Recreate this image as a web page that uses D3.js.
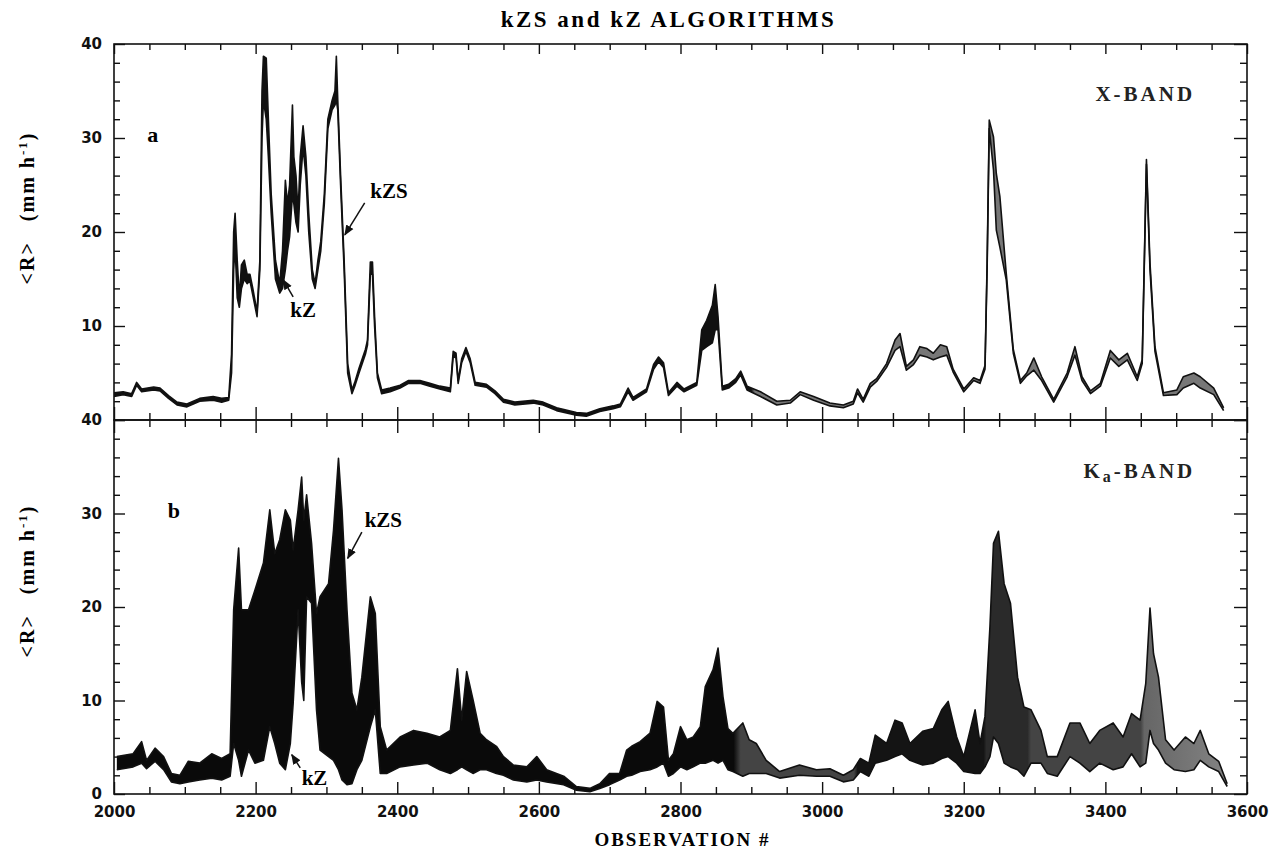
<!DOCTYPE html>
<html>
<head>
<meta charset="utf-8">
<script src="https://cdn.jsdelivr.net/npm/d3@7"></script>
<style>
  html, body { margin: 0; padding: 0; background: #fff; }
  svg { display: block; }
  .serif { font-family: "Liberation Serif", "DejaVu Serif", serif; font-weight: bold; }
  .tick text { font-family: "DejaVu Sans", sans-serif; font-weight: bold; font-size: 15px; fill: #111; }
</style>
</head>
<body>
<div id="chart"></div>
<script>
// panel a : X-band, kZS (upper edge) and kZ (lower edge)
const obsA = [2000,2013,2025,2032,2039,2056,2065,2077,2089,2103,2121,2140,2152,2162,2166,2169,2171,2174,2177,2180,2184,2188,2192,2196,2202,2206,2209,2211,2215,2218,2222,2228,2234,2238,2242,2245,2248,2252,2254,2257,2260,2263,2267,2271,2275,2280,2284,2288,2292,2297,2302,2308,2312,2314,2316,2320,2325,2330,2336,2340,2346,2355,2358,2362,2365,2368,2372,2378,2390,2404,2416,2432,2446,2460,2475,2479,2483,2486,2491,2497,2503,2510,2526,2538,2550,2566,2592,2606,2625,2653,2667,2686,2705,2715,2726,2733,2752,2762,2769,2776,2783,2795,2805,2823,2830,2837,2845,2849,2853,2859,2868,2878,2885,2894,2913,2936,2955,2969,2988,3011,3030,3044,3050,3058,3068,3077,3091,3103,3110,3119,3129,3138,3148,3157,3167,3176,3185,3200,3214,3223,3230,3233,3236,3242,3246,3251,3260,3270,3280,3289,3299,3310,3327,3346,3357,3367,3379,3393,3407,3419,3431,3445,3452,3458,3463,3470,3482,3501,3510,3525,3534,3553,3567];
const kzsA = [2.9,3.0,2.8,4.0,3.3,3.5,3.4,2.6,1.9,1.7,2.3,2.5,2.3,2.4,7.0,20.0,22.0,17.0,13.0,16.5,17.0,15.5,15.5,14.0,11.5,17.0,35.0,38.7,38.5,32.0,24.0,17.0,14.5,18.0,25.5,23.0,25.0,33.5,28.0,26.0,22.0,28.0,31.3,28.0,22.0,16.0,14.5,17.0,19.0,24.0,32.0,34.0,35.0,38.7,34.0,26.0,17.0,6.0,3.2,4.0,5.5,7.5,8.5,16.8,16.8,11.0,5.0,3.2,3.4,3.7,4.2,4.2,3.9,3.6,3.4,7.3,7.1,4.2,6.5,7.7,6.5,4.0,3.8,3.1,2.2,1.9,2.1,1.9,1.3,0.8,0.7,1.2,1.5,1.7,3.4,2.4,3.3,5.9,6.7,6.1,2.9,4.0,3.3,4.0,9.6,10.6,12.2,14.4,11.0,3.6,3.8,4.4,5.2,3.6,3.0,2.0,2.1,3.0,2.5,1.8,1.6,2.0,3.3,2.2,3.9,4.4,6.0,8.5,9.2,5.7,6.4,7.8,7.6,7.1,8.0,7.8,5.4,3.3,4.5,4.2,5.8,16.7,31.9,30.1,26.2,23.8,15.6,7.5,4.2,5.0,6.6,4.6,2.2,5.0,7.8,4.6,3.1,3.9,7.4,6.4,7.1,4.6,6.4,27.7,16.7,7.8,2.9,3.2,4.6,5.0,4.6,3.4,1.3];
const kzA = [2.5,2.7,2.5,3.7,3.0,3.2,3.1,2.3,1.6,1.4,2.0,2.1,1.9,2.1,5.0,16.0,18.5,13.0,12.0,14.0,15.0,14.5,14.8,13.3,11.0,16.0,30.0,34.0,32.0,28.0,22.0,15.0,13.5,14.0,16.0,18.0,19.5,24.0,23.0,21.0,20.0,25.0,29.0,26.0,20.0,15.0,14.0,16.0,18.0,23.0,31.0,33.0,33.5,34.0,33.0,25.0,16.0,5.0,2.8,3.6,5.0,7.0,8.0,15.5,15.5,10.0,4.5,2.8,3.0,3.4,3.9,3.9,3.6,3.3,3.0,6.8,6.6,3.9,6.1,7.3,6.1,3.7,3.5,2.8,1.9,1.6,1.8,1.6,1.0,0.5,0.4,0.9,1.2,1.4,3.0,2.1,3.0,5.4,6.2,5.6,2.6,3.6,3.0,3.7,7.4,7.8,8.2,9.6,9.6,3.2,3.4,4.0,4.8,3.2,2.5,1.6,1.8,2.7,2.1,1.5,1.3,1.7,2.9,1.9,3.5,4.1,5.6,7.4,7.8,5.3,5.9,6.9,6.7,6.4,6.7,6.9,5.1,3.0,4.2,3.9,5.4,16.0,31.0,26.6,20.2,18.4,14.9,7.1,3.9,4.7,5.3,4.2,1.9,4.6,6.9,4.2,2.8,3.6,6.6,5.7,6.4,4.2,6.0,27.2,16.0,7.3,2.6,2.7,3.4,3.9,3.4,2.7,1.0];

// panel b : Ka-band
const obsB = [2004,2027,2039,2046,2058,2070,2081,2093,2105,2121,2138,2152,2164,2169,2176,2180,2190,2199,2211,2220,2227,2234,2242,2249,2253,2260,2265,2268,2272,2279,2286,2291,2303,2310,2317,2322,2329,2336,2343,2350,2362,2369,2376,2385,2404,2423,2442,2460,2475,2485,2491,2498,2507,2517,2526,2540,2550,2564,2583,2597,2611,2635,2653,2672,2686,2700,2714,2724,2731,2743,2757,2767,2776,2783,2790,2800,2809,2818,2828,2835,2846,2853,2860,2867,2874,2888,2897,2907,2921,2940,2968,2992,3011,3030,3044,3054,3066,3075,3091,3103,3113,3124,3142,3157,3169,3178,3190,3200,3216,3223,3230,3237,3242,3249,3257,3266,3276,3285,3295,3309,3318,3332,3350,3364,3378,3392,3411,3425,3437,3449,3457,3463,3468,3475,3485,3497,3513,3525,3534,3546,3560,3572];
const kzsB = [4.0,4.3,5.6,3.6,4.9,4.0,2.2,2.0,3.5,3.3,4.3,3.8,4.3,19.7,26.3,19.7,19.7,21.8,24.7,30.4,25.7,27.2,30.4,29.3,26.1,30.4,33.9,29.3,32.0,26.8,19.3,21.1,22.5,28.2,35.9,30.4,19.7,10.8,9.0,12.5,21.1,19.3,7.2,4.7,6.1,6.8,6.5,6.1,6.8,13.4,7.9,13.1,10.1,6.5,5.8,5.1,4.0,3.1,2.9,4.0,2.6,1.9,0.8,0.6,1.1,2.2,2.2,4.7,5.1,5.6,6.5,9.9,9.3,3.6,4.3,7.2,5.8,6.1,7.2,11.5,13.3,15.6,10.4,7.0,6.5,7.6,5.8,5.4,3.6,2.4,3.1,2.6,2.7,2.0,2.6,3.8,3.3,6.3,5.4,7.9,7.6,5.4,6.7,7.0,9.0,9.9,6.1,4.0,9.0,5.4,8.3,17.9,26.8,28.1,22.5,20.4,12.5,9.3,9.0,6.8,4.0,4.0,7.6,7.6,5.4,6.8,7.6,6.1,8.6,7.9,11.8,19.9,15.0,12.5,5.8,4.7,6.1,5.4,6.8,4.3,3.5,1.1];
const kzB = [2.6,2.9,3.3,2.7,3.5,2.6,1.3,1.1,1.3,1.5,1.7,1.5,1.9,5.4,3.6,1.9,4.7,3.3,3.6,7.2,5.4,3.3,2.6,5.4,9.7,19.7,12.0,10.0,21.1,20.4,9.0,4.7,4.0,3.6,2.6,1.5,1.0,1.1,2.6,3.6,7.2,9.0,2.2,2.2,2.9,3.1,3.3,2.6,2.2,2.6,2.9,2.6,2.2,2.6,2.6,2.2,2.0,1.5,1.3,1.5,1.3,1.0,0.4,0.25,0.6,1.0,1.5,1.9,2.0,2.4,2.6,2.9,3.3,1.9,2.2,2.9,2.6,2.9,3.3,3.3,3.6,3.3,3.6,2.6,2.4,1.9,2.2,2.2,2.2,1.7,2.0,1.9,1.9,1.3,1.5,2.4,1.9,3.3,3.6,4.0,4.3,3.6,3.1,3.3,3.8,4.0,3.3,2.4,2.2,2.2,2.9,4.0,6.1,5.4,3.3,2.9,2.6,1.9,3.3,3.3,2.2,1.9,4.0,3.3,2.4,3.3,2.6,2.9,4.3,2.9,3.3,6.8,5.4,4.7,3.3,2.6,2.4,2.6,3.6,2.9,2.4,0.8];

const xTickLabels = [2000, 2200, 2400, 2600, 2800, 3000, 3200, 3400, 3600];
const yTickLabelsA = [10, 20, 30, 40];
const yTickLabelsB = [0, 10, 20, 30, 40];

const width = 1281, height = 861;
const pLeft = 114, pRight = 1247, pTop = 44, pMid = 420, pBottom = 794;

const svg = d3.select('#chart').append('svg')
  .attr('width', width)
  .attr('height', height);

const x = d3.scaleLinear().domain([2000, 3600]).range([pLeft, pRight]);
const yA = d3.scaleLinear().domain([0, 40]).range([pMid, pTop]);
const yB = d3.scaleLinear().domain([0, 40]).range([pBottom, pMid]);

const majorX = d3.range(2000, 3601, 200);
const minorX = d3.range(2000, 3601, 50).filter(v => v % 200 !== 0);
const majorY = d3.range(0, 41, 10);
const minorY = d3.range(0, 41, 2).filter(v => v % 10 !== 0);

// fill tones along x, the scanned band is solid black on the left and hatched grey on the right
const defs = svg.append('defs');
function tone(id, stops) {
  const g = defs.append('linearGradient')
    .attr('id', id)
    .attr('gradientUnits', 'userSpaceOnUse')
    .attr('x1', x(2000)).attr('x2', x(3600))
    .attr('y1', 0).attr('y2', 0);
  stops.forEach(s => {
    g.append('stop').attr('offset', (s[0] - 2000) / 1600).attr('stop-color', s[1]);
  });
}
tone('toneA', [[2000, '#111'], [2900, '#111'], [2905, '#777'], [3600, '#777']]);
tone('toneB', [[2000, '#0a0a0a'], [2875, '#0a0a0a'], [2885, '#444'], [3045, '#444'], [3050, '#141414'],
  [3228, '#141414'], [3232, '#2a2a2a'], [3290, '#2a2a2a'], [3295, '#444'], [3450, '#444'], [3455, '#666'], [3600, '#8a8a8a']]);

defs.append('clipPath').attr('id', 'clipA').append('rect')
  .attr('x', pLeft).attr('y', pTop).attr('width', pRight - pLeft).attr('height', pMid - pTop);
defs.append('clipPath').attr('id', 'clipB').append('rect')
  .attr('x', pLeft).attr('y', pMid).attr('width', pRight - pLeft).attr('height', pBottom - pMid);

function drawPanel(obs, upper, lower, y, clip, fill) {
  const rows = obs.map((o, i) => ({ o: o, hi: upper[i], lo: lower[i] }));
  const g = svg.append('g').attr('clip-path', 'url(#' + clip + ')');
  g.append('path')
    .datum(rows)
    .attr('d', d3.area().x(d => x(d.o)).y0(d => y(d.lo)).y1(d => y(d.hi)))
    .attr('fill', 'url(#' + fill + ')');
  ['hi', 'lo'].forEach(k => {
    g.append('path')
      .datum(rows)
      .attr('d', d3.line().x(d => x(d.o)).y(d => y(d[k])))
      .attr('fill', 'none')
      .attr('stroke', '#111')
      .attr('stroke-width', 1.6)
      .attr('stroke-linejoin', 'round');
  });
}
drawPanel(obsA, kzsA, kzA, yA, 'clipA', 'toneA');
drawPanel(obsB, kzsB, kzB, yB, 'clipB', 'toneB');

// axes
function axisGroup(gen, tx, ty) {
  const g = svg.append('g').attr('transform', 'translate(' + tx + ',' + ty + ')').call(gen);
  g.select('.domain').remove();
  g.selectAll('.tick line').attr('stroke', '#111').attr('stroke-width', 1.4);
  return g;
}
// x ticks
axisGroup(d3.axisTop(x).tickValues(majorX).tickSize(-10).tickFormat(''), 0, pTop);
axisGroup(d3.axisTop(x).tickValues(minorX).tickSize(-6).tickFormat(''), 0, pTop);
axisGroup(d3.axisTop(x).tickValues(majorX).tickSize(13).tickFormat(''), 0, pMid);
axisGroup(d3.axisBottom(x).tickValues(majorX).tickSize(13).tickFormat(''), 0, pMid);
axisGroup(d3.axisTop(x).tickValues(minorX).tickSize(7).tickFormat(''), 0, pMid);
axisGroup(d3.axisBottom(x).tickValues(minorX).tickSize(7).tickFormat(''), 0, pMid);
axisGroup(d3.axisBottom(x).tickValues(xTickLabels).tickSize(-12).tickPadding(12).tickFormat(d3.format('d')), 0, pBottom);
axisGroup(d3.axisBottom(x).tickValues(minorX).tickSize(-7).tickFormat(''), 0, pBottom);

// y ticks, the bottom panel owns the "40" on the shared border
[[yA, yTickLabelsA], [yB, yTickLabelsB]].forEach(([y, labels]) => {
  axisGroup(d3.axisLeft(y).tickValues(majorY).tickSize(-11).tickPadding(12)
    .tickFormat(d => labels.includes(d) ? d : ''), pLeft, 0);
  axisGroup(d3.axisLeft(y).tickValues(minorY).tickSize(-6).tickFormat(''), pLeft, 0);
  axisGroup(d3.axisRight(y).tickValues(majorY).tickSize(-13).tickFormat(''), pRight, 0);
  axisGroup(d3.axisRight(y).tickValues(minorY).tickSize(-7).tickFormat(''), pRight, 0);
});

// frames
const frame = svg.append('g').attr('fill', 'none').attr('stroke', '#111').attr('stroke-width', 1.6);
frame.append('rect').attr('x', pLeft).attr('y', pTop).attr('width', pRight - pLeft).attr('height', pMid - pTop);
frame.append('rect').attr('x', pLeft).attr('y', pMid).attr('width', pRight - pLeft).attr('height', pBottom - pMid);

// texts
svg.append('text').attr('class', 'serif')
  .attr('x', (pLeft + pRight) / 2 - 12).attr('y', 27)
  .attr('text-anchor', 'middle')
  .attr('font-size', 23).attr('letter-spacing', 2.5)
  .text('kZS and kZ ALGORITHMS');

svg.append('text').attr('class', 'serif')
  .attr('x', (pLeft + pRight) / 2 + 2).attr('y', 846)
  .attr('text-anchor', 'middle')
  .attr('font-size', 19).attr('letter-spacing', 2)
  .text('OBSERVATION #');

function yLabel(cy) {
  const t = svg.append('text').attr('class', 'serif')
    .attr('transform', 'translate(34,' + cy + ') rotate(-90)')
    .attr('text-anchor', 'middle')
    .attr('font-size', 20).attr('letter-spacing', 2);
  t.append('tspan').text('<R>');
  t.append('tspan').attr('dx', 20).text('(mm h');
  t.append('tspan').attr('dy', -7).attr('font-size', 13).text('-1');
  t.append('tspan').attr('dy', 7).text(')');
}
yLabel((pTop + pMid) / 2 - 24);
yLabel((pMid + pBottom) / 2 - 26);

// panel letters and band names
function note(txt, o, v, y, size) {
  return svg.append('text').attr('class', 'serif')
    .attr('x', x(o)).attr('y', y(v))
    .attr('font-size', size)
    .text(txt);
}
note('a', 2047, 29.6, yA, 22);
note('b', 2076, 29.5, yB, 22);
note('X-BAND', 3386, 33.9, yA, 21).attr('font-weight', 'normal').attr('letter-spacing', 3).attr('fill', '#222');
const ka = note('K', 3369, 33.8, yB, 21).attr('font-weight', 'normal').attr('letter-spacing', 3).attr('fill', '#222');
ka.append('tspan').attr('dy', 4).attr('font-size', 16).text('a');
ka.append('tspan').attr('dy', -4).text('-BAND');

// kZS / kZ pointers
defs.append('marker').attr('id', 'head')
  .attr('viewBox', '0 0 10 10').attr('refX', 9).attr('refY', 5)
  .attr('markerWidth', 7).attr('markerHeight', 7).attr('orient', 'auto')
  .append('path').attr('d', 'M0,1 L10,5 L0,9 Z').attr('fill', '#111');

function pointer(txt, tx, tv, from, to, y) {
  note(txt, tx, tv, y, 21);
  svg.append('line')
    .attr('x1', x(from[0])).attr('y1', y(from[1]))
    .attr('x2', x(to[0])).attr('y2', y(to[1]))
    .attr('stroke', '#111').attr('stroke-width', 1.5)
    .attr('marker-end', 'url(#head)');
}
pointer('kZS', 2362, 23.6, [2354, 23.1], [2326, 19.7], yA);
pointer('kZ', 2249, 11.0, [2253, 13.1], [2239, 14.9], yA);
pointer('kZS', 2354, 28.6, [2350, 28.0], [2330, 25.2], yB);
pointer('kZ', 2265, 1.0, [2263, 2.8], [2251, 4.2], yB);
</script>
</body>
</html>
